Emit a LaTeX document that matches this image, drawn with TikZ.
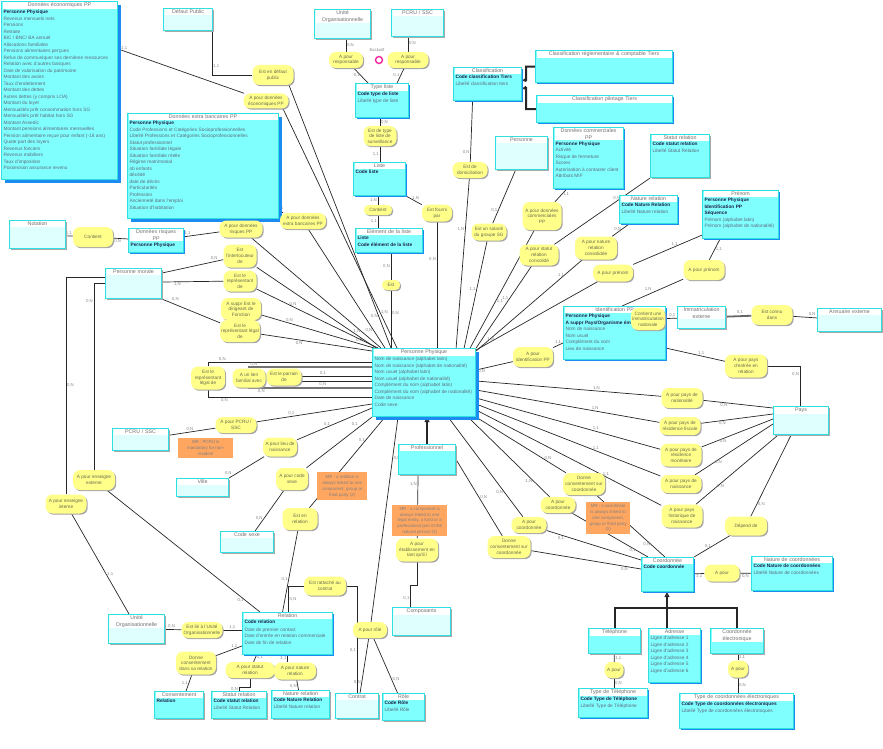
\documentclass[tikz,border=0pt]{standalone}
\usepackage{fontspec}
\setmainfont{Liberation Sans}
\usetikzlibrary{arrows.meta,shadows}
\pgfdeclarelayer{back}
\pgfsetlayers{back,main}

\definecolor{entline}{HTML}{30E0E0}
\definecolor{entfill}{HTML}{80FFFF}
\definecolor{palefill}{HTML}{DFFFFF}
\definecolor{titletext}{HTML}{707070}
\definecolor{boldtext}{HTML}{1E2046}
\definecolor{attrtext}{HTML}{5E6A7A}
\definecolor{relfill}{HTML}{FFFF8A}
\definecolor{reltext}{HTML}{6A6A50}
\definecolor{mrfill}{HTML}{FFA661}
\definecolor{shblue}{HTML}{1C8CF0}
\definecolor{shgray}{HTML}{A8A8A8}
\definecolor{linecol}{HTML}{262626}
\definecolor{cardgray}{HTML}{858585}

\newcommand\entfont{\fontsize{4.8}{6.5}\selectfont}
\newcommand\titlefont{\fontsize{5.3}{6.3}\selectfont}
\newcommand\relfont{\fontsize{4.7}{5.6}\selectfont}
\newcommand\mrfont{\fontsize{4.4}{5.8}\selectfont}
\newcommand\cardfont{\fontsize{4.3}{5}\selectfont}
\newcommand\battr[1]{{\color{boldtext}\bfseries #1}}

% entite : nom, x, y, largeur, hauteur, fond, titre, attributs
\newcommand\Ent[9][shs]{%
 \fill[#1] (#3,#4) rectangle ++(#5,#6);
 \node[ent, fill=#7, minimum width=#5pt, minimum height=#6pt] (#2) at (#3,#4) {};
 \node[enttitle, text width=\dimexpr#5pt-4pt\relax] (#2-t) at ([yshift=-0.8pt]#2.north) {#8};
 \node[entbody] (#2-b) at (#2-t.south west) {#9};
}

\begin{document}
\begin{tikzpicture}[x=1pt,y=-1pt,
ent/.style={draw=entline, line width=1.1pt, anchor=north west, inner sep=0pt},
enttitle/.style={fill=white, anchor=north, inner sep=1pt, align=center, font=\titlefont, text=titletext},
entbody/.style={anchor=north west, inner sep=1pt, align=left, font=\entfont, text=attrtext},
shb/.style={fill=shblue, xshift=4pt, yshift=-4pt},
shs/.style={fill=shblue, xshift=2pt, yshift=-2pt},
shg/.style={fill=shgray, xshift=2pt, yshift=-2pt},
rel/.style 2 args={fill=relfill, rounded corners=7pt, inner xsep=1pt, inner ysep=1pt,
 align=center, font=\relfont, text=reltext, minimum width=#1pt, minimum height=#2pt,
 drop shadow={shadow xshift=1.2pt, shadow yshift=-1.2pt, fill=black!35, opacity=1}},
small/.style={rounded corners=4.5pt},
mr/.style={fill=mrfill, anchor=north west, inner sep=1pt, align=center, font=\mrfont, text=black!50},
link/.style={draw=linecol, line width=0.7pt},
inh/.style={draw=linecol, line width=2pt},
card/.style={font=\cardfont, text=cardgray, inner sep=0.8pt},
]
\useasboundingbox (0,0) rectangle (883,749);

%% entites
\Ent[shb]{eco}{1}{1}{116}{178}{entfill}{Données économiques PP}{\battr{Personne Physique}\\Revenus mensuels nets\\Pensions\\Retraite\\BIC / BNC/ BA annuel\\Allocations familiales\\Pensions alimentaires perçues\\Refus de communiquer ses dernières ressources\\Relation avec d'autres banques\\Date de valorisation du patrimoine\\Montant des avoirs\\Taux d'endettement\\Montant des dettes\\Autres dettes (y compris LOA)\\Montant du loyer\\Mensualités prêt consommation hors SG\\Mensualités prêt habitat hors SG\\Montant Assedic\\Montant pensions alimentaires mensuelles\\Pension alimentaire reçue pour enfant (-18 ans)\\Quote part des loyers\\Revenus fonciers\\Revenus mobiliers\\Taux d'imposition\\Possession assurance revenu}
\Ent[shg]{defaut}{163}{8}{49}{22}{palefill}{Défaut Public}{}
\Ent[shg]{uoT}{314}{9}{56}{29}{palefill}{Unité\\Organisationnelle}{}
\Ent[shg]{pcruT}{391}{9}{52}{27}{palefill}{PCRU / SSC}{}
\Ent{typeliste}{355}{83}{53}{34}{entfill}{Type liste}{\battr{Code type de liste}\\Libellé type de liste}
\Ent{liste}{353}{162}{52}{33}{entfill}{Liste}{\battr{Code liste}}
\Ent{elem}{355}{228}{67}{24}{entfill}{Elément de la liste}{\battr{Liste}\\\battr{Code élément de la liste}}
\Ent{classif}{453}{67}{68}{33}{entfill}{Classification}{\battr{Code classification Tiers}\\Libellé classification tiers}
\Ent{classreg}{535}{50}{137}{32}{entfill}{Classification réglementaire \& comptable Tiers}{}
\Ent{classpil}{536}{95}{136}{27}{entfill}{Classification pilotage Tiers}{}
\Ent[shg]{personne}{495}{136}{52}{33}{palefill}{Personne}{}
\Ent{comm}{553}{127}{70}{61}{entfill}{Données commerciales\\PP}{\battr{Personne Physique}\\Activité\\Risque de fermeture\\Scores\\Autorisation à contacter client\\Attributs MIF}
\Ent[shg]{statutT}{650}{134}{59}{43}{entfill}{Statut relation}{\battr{Code statut relation}\\Libellé Statut Relation}
\Ent{natureT}{619}{195}{58}{28}{entfill}{Nature relation}{\battr{Code Nature Relation}\\Libellé Nature relation}
\Ent{prenom}{702}{190}{76}{48}{entfill}{Prénom}{\battr{Personne Physique}\\\battr{Identification PP}\\\battr{Séquence}\\Prénom (alphabet latin)\\Prénom (alphabet de nationalité)}
\Ent[shb]{extra}{127}{113}{151}{105}{entfill}{Données extra bancaires PP}{\battr{Personne Physique}\\Code Professions et Catégories Socioprofessionnelles\\Libellé Professions et Catégories Socioprofessionnelles\\Statut professionnel\\Situation familiale légale\\Situation familiale réelle\\Régime matrimonial\\nb enfants\\décédé\\date de décès\\Particularités\\Profession\\Ancienneté dans l'emploi\\Situation d'habitation}
\Ent[shg]{notation}{9}{220}{56}{28}{palefill}{Notation}{}
\Ent{risques}{128}{228}{55}{24}{entfill}{Données risques\\PP}{\battr{Personne Physique}}
\Ent[shg]{pm}{105}{268}{56}{30}{palefill}{Personne morale}{}
\Ent[shb]{pp}{372}{348}{103}{68}{entfill}{Personne Physique}{Nom de naissance (alphabet latin)\\Nom de naissance (alphabet de nationalité)\\Nom usuel (alphabet latin)\\Nom usuel (alphabet de nationalité)\\Complément du nom (alphabet latin)\\Complément du nom (alphabet de nationalité)\\Date de naissance\\Code sexe}
\Ent{ident}{563}{306}{102}{53}{entfill}{Identification PP}{\battr{Personne Physique}\\\battr{A suppr Pays/Organisme émetteur}\\Nom de naissance\\Nom usuel\\Complément du nom\\Lieu de naissance}
\Ent[shg]{immat}{677}{306}{48}{22}{palefill}{Immatriculation\\externe}{}
\Ent[shg]{annuaire}{817}{308}{64}{23}{palefill}{Annuaire externe}{}
\Ent[shg]{pays}{773}{406}{55}{28}{palefill}{Pays}{}
\Ent[shg]{pcruL}{112}{428}{56}{22}{palefill}{PCRU / SSC}{}
\Ent[shg]{ville}{176}{478}{52}{18}{palefill}{Ville}{}
\Ent[shg]{codesexe}{220}{531}{53}{21}{palefill}{Code sexe}{}
\Ent[shg]{prof}{398}{444}{57}{30}{entfill}{Professionnel}{}
\Ent[shg]{composants}{392}{607}{58}{28}{palefill}{Composants}{}
\Ent[shg]{uoB}{108}{614}{56}{29}{palefill}{Unité\\Organisationnelle}{}
\Ent{relation}{242}{612}{90}{42}{entfill}{Relation}{\battr{Code relation}\\[1pt]Date de premier contact\\Date d'entrée en relation commerciale\\Date de fin de relation}
\Ent[shg]{consent}{154}{691}{49}{27}{entfill}{Consentement}{\battr{Relation}}
\Ent[shg]{statutB}{211}{691}{55}{27}{entfill}{Statut relation}{\battr{Code statut relation}\\Libellé Statut Relation}
\Ent[shg]{natureB}{271}{690}{58}{28}{entfill}{Nature relation}{\battr{Code Nature Relation}\\Libellé Nature relation}
\Ent[shg]{contrat}{335}{693}{43}{25}{palefill}{Contrat}{}
\Ent[shg]{role}{382}{693}{42}{27}{entfill}{Rôle}{\battr{Code Rôle}\\Libellé Rôle}
\Ent{coord}{641}{557}{52}{34}{entfill}{Coordonnée}{\battr{Code coordonnée}}
\Ent{natcoord}{751}{556}{81}{34}{entfill}{Nature de coordonnées}{\battr{Code Nature de coordonnées}\\Libellé Nature de coordonnées}
\Ent[shg]{tel}{588}{628}{52}{25}{entfill}{Téléphone}{}
\Ent{adresse}{648}{628}{52}{54}{entfill}{Adresse}{Ligne d'adresse 1\\Ligne d'adresse 2\\Ligne d'adresse 3\\Ligne d'adresse 4\\Ligne d'adresse 5\\Ligne d'adresse 6}
\Ent[shg]{coordelec}{710}{628}{53}{25}{entfill}{Coordonnée\\électronique}{}
\Ent{typetel}{578}{688}{69}{29}{entfill}{Type de Téléphone}{\battr{Code Type de Téléphone}\\Libellé Type de Téléphone}
\Ent{typecoordelec}{679}{693}{114}{35}{entfill}{Type de coordonnées électroniques}{\battr{Code Type de coordonnées électroniques}\\Libellé Type de coordonnées électroniques}

%% associations
\node[rel={41}{20}] (r_defaut) at (273,75) {Est en défaut\\public};
\node[rel={45}{15}] (r_eco) at (266,101) {A pour données\\économiques PP};
\node[rel={34}{16}] (r_respU) at (346,60) {A pour\\responsable};
\node[rel={41}{16}] (r_respP) at (408,60) {A pour\\responsable};
\node[circle, draw=magenta!85, line width=1.4pt, fill=white, minimum size=7pt, inner sep=0pt] (excl) at (379,60) {};
\node[card] (exclLbl) at (377,50) {Exclusif};
\node[rel={33}{20}] (r_typesurv) at (380,136) {Est de type\\de liste de\\surveillance};
\node[rel={28}{10}, small] (r_contient) at (378,210) {Contient};
\node[rel={30}{17}] (r_fourni) at (437,213) {Est fourni\\par};
\node[rel={18}{10}, small] (r_est) at (391,285) {Est};
\node[rel={35}{16}] (r_domic) at (470,170) {Est de\\domiciliation};
\node[rel={35}{17}] (r_salarie) at (489,232) {Est un salarié\\du groupe SG};
\node[rel={39}{28}] (r_comm) at (542,216) {A pour données\\commerciales\\PP};
\node[rel={39}{21}] (r_statcons) at (539,255) {A pour statut\\relation\\consolidé};
\node[rel={42}{23}] (r_natcons) at (596,248) {A pour nature\\relation\\consolidée};
\node[rel={40}{17}] (r_prenom1) at (613,273) {A pour prénom};
\node[rel={41}{20}] (r_prenom2) at (704,270) {A pour prénom};
\node[rel={40}{20}] (r_identpp) at (533,357) {A pour\\identification PP};
\node[rel={34}{22}] (r_immat) at (648,319) {Contient une\\immatriculation\\nationale};
\node[rel={41}{20}] (r_connu) at (772,315) {Est connu\\dans};
\node[rel={42}{23}] (r_paysentree) at (746,366) {A pour pays\\d'entrée en\\relation};
\node[rel={41}{20}] (r_natio) at (682,398) {A pour pays de\\nationalité};
\node[rel={41}{18}] (r_fisc) at (680,426) {A pour pays de\\résidence fiscale};
\node[rel={41}{23}] (r_monet) at (681,455) {A pour pays de\\résidence\\monétaire};
\node[rel={41}{18}] (r_naiss) at (681,484) {A pour pays de\\naissance};
\node[rel={41}{23}] (r_histo) at (682,516) {A pour pays\\historique de\\naissance};
\node[rel={42}{19}] (r_depend) at (746,526) {Dépend de};
\node[rel={35}{17}] (r_apour) at (722,573) {A pour};
\node[rel={42}{22}] (r_consent1) at (584,484) {Donne\\consentement sur\\coordonnée};
\node[rel={35}{16}] (r_coord1) at (558,505) {A pour\\coordonnée};
\node[rel={35}{16}] (r_coord2) at (529,525) {A pour\\coordonnée};
\node[rel={43}{22}] (r_consent2) at (509,547) {Donne\\consentement sur\\coordonnée};
\node[rel={32}{22}] (r_codesexe) at (292,479) {A pour code\\sexe};
\node[rel={34}{19}] (r_lieu) at (280,447) {A pour lieu de\\naissance};
\node[rel={41}{16}] (r_pcru) at (236,425) {A pour PCRU /\\SSC};
\node[rel={34}{23}] (r_replegal2) at (208,378) {Est le\\représentant\\légal de};
\node[rel={33}{19}] (r_lien) at (249,378) {A un lien\\familial avec};
\node[rel={35}{17}] (r_parrain) at (284,377) {Est le parrain\\de};
\node[rel={33}{23}] (r_interloc) at (240,256) {Est\\l'interlocuteur\\de};
\node[rel={33}{21}] (r_repr) at (240,281) {Est le\\représentant\\de};
\node[rel={40}{22}] (r_dirig) at (241,309) {A suppr Est le\\dirigeant de\\Fonction};
\node[rel={39}{22}] (r_replegal) at (240,331) {Est le\\représentant légal\\de};
\node[rel={40}{20}] (r_contientN) at (93,237) {Contient};
\node[rel={43}{17}] (r_risques) at (241,229) {A pour données\\risques PP};
\node[rel={46}{16}] (r_extra) at (303,221) {A pour données\\extra bancaires PP};
\node[rel={42}{20}] (r_ensext) at (94,480) {A pour enseigne\\externe};
\node[rel={41}{19}] (r_ensint) at (66,504) {A pour enseigne\\interne};
\node[rel={41}{16}] (r_uorg) at (202,630) {Est lié à l'Unité\\Organisationnelle};
\node[rel={40}{23}] (r_consrel) at (196,663) {Donne\\consentement\\dans sa relation};
\node[rel={49}{16}] (r_statrel) at (250,670) {A pour statut\\relation};
\node[rel={42}{17}] (r_natrel) at (295,671) {A pour nature\\relation};
\node[rel={35}{22}] (r_enrel) at (300,519) {Est en\\relation};
\node[rel={42}{19}] (r_contrat) at (325,586) {Est rattaché au\\contrat};
\node[rel={34}{16}] (r_role) at (370,630) {A pour rôle};
\node[rel={42}{23}] (r_etab) at (417,550) {A pour\\établissement en\\tant qu'EI};
\node[rel={19}{16}] (r_tel) at (614,670) {A pour};
\node[rel={20}{17}] (r_elec) at (738,669) {A pour};

%% regles de gestion
\node[mr, minimum width=55pt, minimum height=20pt] (mr1) at (178,438) {MR : PCRU is\\mandatory for non-\\resident};
\node[mr, minimum width=50pt, minimum height=28pt] (mr2) at (317,472) {MR : a relation is\\always linked to one\\component, group or\\third party (2)};
\node[mr, minimum width=55pt, minimum height=31pt] (mr3) at (392,505) {MR : a component is\\always linked to one\\legal entity, a fund or a\\professional part of the\\natural person (3)};
\node[mr, minimum width=44pt, minimum height=32pt] (mr4) at (586,502) {MR : a coordinate\\is always linked to\\one component,\\group or third party\\(1)};

\coordinate (hub) at (667,608);

\begin{pgfonlayer}{back}
% haut
\draw[link] ([xshift=-1pt]defaut.south east) |- node[card, pos=0.4, right]{1,1} (r_defaut);
\draw[link] ([xshift=16pt]r_defaut.south) -- node[card, pos=0.88, left]{0,N} ([xshift=19pt]pp.north west);
\draw[link] ([yshift=-48pt]eco.north east) -- node[card, pos=0.05, above]{1,1} (r_eco);
\draw[link] ([xshift=17pt]r_eco.south) -- node[card, pos=0.85, right]{1,N} ([xshift=25pt]pp.north west);
\draw[link] (uoT.south -| r_respU) -- node[card, pos=0.45, right]{0,N} (r_respU);
\draw[link] (pcruT.south -| r_respP) -- node[card, pos=0.45, right]{0,N} (r_respP);
\draw[link] (r_respU) -- node[card, pos=0.5, left]{0,1} ([xshift=13pt]typeliste.north west);
\draw[link] (r_respP) -- node[card, pos=0.5, left]{0,1} ([xshift=-12pt]typeliste.north east);
\draw[link] (typeliste.south -| r_typesurv) -- node[card, pos=0.5, right]{0,N} (r_typesurv);
\draw[link] (r_typesurv) -- node[card, pos=0.5, left]{1,1} (liste.north -| r_typesurv);
\draw[link] (liste.south -| r_contient) -- node[card, pos=0.5, left]{1,N} (r_contient);
\draw[link] (r_contient) -- node[card, pos=0.5, left]{1,1} (elem.north -| r_contient);
\draw[link] (liste.south east) -- node[card, pos=0.6, above]{1,N} (r_fourni);
\draw[link] (r_fourni) -- node[card, pos=0.3, left]{0,N} (r_fourni |- pp.north);
\draw[link] (elem.south -| r_est) -- node[card, pos=0.5, left]{0,N} (r_est);
\draw[link] (r_est) -- node[card, pos=0.4, right]{0,N} (r_est |- pp.north);
% classification
\draw[link] ([xshift=-15pt]classif.south) -- node[card, pos=0.85, left]{0,N} (r_domic);
\draw[link] (r_domic) -- node[card, pos=0.3, left]{1,N} ([xshift=-20pt]pp.north east);
\draw[inh, -{Triangle[open, length=4pt, width=4pt]}] (classreg.west) -| (526,80) -- ([yshift=3.5pt]classif.east);
\draw[inh, -{Triangle[open, length=4pt, width=4pt]}] (classpil.west) -| (526,88) -- ([yshift=-4.5pt]classif.east);
\draw[link] ([xshift=-6pt]personne.south) -- node[card, pos=0.75, left]{0,1} (r_salarie);
\draw[link] (r_salarie) -- node[card, pos=0.45, left]{1,1} ([xshift=-12pt]pp.north east);
\draw[link] ([xshift=-22pt]comm.south) -- node[card, pos=0.4, right]{1,1} (r_comm);
\draw[link] (r_comm) -- node[card, pos=0.6, right]{1,1} ([xshift=-6pt]pp.north east);
\draw[link] (statutT.south west) -- node[card, pos=0.3, left]{0,N} (r_statcons);
\draw[link] (r_statcons) -- node[card, pos=0.4, left]{1,1} (pp.north east);
\draw[link] ([xshift=10pt]natureT.south west) -- node[card, pos=0.4, left]{0,N} (r_natcons);
\draw[link] (r_natcons) -- node[card, pos=0.2, above]{1,1} ([yshift=-3pt]pp.north east);
% prenom, identification
\draw[link] ([yshift=-2pt]pp.north east) -- node[card, pos=0.12, above]{1,N} (r_prenom1);
\draw[link] (r_prenom1) -- node[card, pos=0.6, above]{1,1} ([yshift=4pt]prenom.south west);
\draw[link] ([xshift=59pt]ident.north west) -- node[card, pos=0.5, above left]{1,N} (r_prenom2);
\draw[link] (r_prenom2) -- node[card, pos=0.5, right]{1,1} ([xshift=18pt]prenom.south west);
\draw[link] ([yshift=-22pt]pp.north east) -- node[card, pos=0.15, below]{0,N} (r_identpp);
\draw[link] (r_identpp) -- node[card, pos=0.5, above]{1,1} ([yshift=-37pt]ident.north west);
\draw[link] (r_immat) -- node[card, pos=0.6, above]{0,1} (immat);
\draw[link, line width=1.8pt, draw=black!60] (immat) -- node[card, pos=0.55, above]{0,1} (r_connu);
\draw[link] (r_connu) -- node[card, pos=0.8, above]{0,N} (annuaire);
\draw[link] ([yshift=12pt]ident.south east) -- node[card, pos=0.6, above]{1,1} (r_paysentree);
\draw[link] (r_paysentree) -| node[card, pos=0.6, left]{0,N} ([xshift=27pt]pays.north west);
% pays
\draw[link] ([yshift=-33pt]pp.north east) -- node[card, pos=0.65, above]{1,N} (r_natio);
\draw[link] (r_natio) -- node[card, pos=0.3, below]{0,N} ([yshift=-2pt]pays.north west);
\draw[link] ([yshift=-42pt]pp.north east) -- node[card, pos=0.65, above]{1,N} (r_fisc);
\draw[link] (r_fisc) -- node[card, pos=0.3, below]{0,N} ([yshift=-8pt]pays.north west);
\draw[link] ([yshift=-50pt]pp.north east) -- node[card, pos=0.65, above]{1,1} (r_monet);
\draw[link] (r_monet) -- node[card, pos=0.3, below]{0,N} ([yshift=-13pt]pays.north west);
\draw[link] ([yshift=-56pt]pp.north east) -- node[card, pos=0.65, above]{1,1} (r_naiss);
\draw[link] (r_naiss) -- node[card, pos=0.3, below]{0,N} ([yshift=-18pt]pays.north west);
\draw[link] ([yshift=-62pt]pp.north east) -- node[card, pos=0.7, above]{1,1} (r_histo);
\draw[link] (r_histo) -- node[card, pos=0.3, below]{0,N} ([xshift=5pt]pays.south west);
\draw[link] ([xshift=-10pt]pays.south) -- node[card, pos=0.85, right]{0,N} (r_depend);
\draw[link] (r_depend) -- node[card, pos=0.5, left]{0,1} (coord.north east);
\draw[link] (coord) -- node[card, pos=0.5, below]{1,1} (r_apour);
\draw[link] (r_apour) -- node[card, pos=0.5, below]{0,N} (natcoord);
% coordonnees
\draw[link] (pp.south east) -- node[card, pos=0.8, above]{0,N} (r_consent1);
\draw[link] (r_consent1) -- node[card, pos=0.8, left]{0,N} ([xshift=24pt]coord.north west);
\draw[link] ([xshift=-8pt]pp.south east) -- node[card, pos=0.8, left]{1,N} (r_coord1);
\draw[link] (r_coord1) -- node[card, pos=0.85, left]{0,1} ([xshift=7pt]coord.north west);
\draw[link] ([xshift=-28pt]pp.south east) -- node[card, pos=0.75, left]{0,N} (r_coord2);
\draw[link] (r_coord2) -- node[card, pos=0.15, below]{0,1} ([yshift=-3pt]coord.north west);
\draw[link] (prof.east) -- node[card, pos=0.5, right]{0,N} (r_consent2);
\draw[link] (r_consent2) -- node[card, pos=0.85, below]{0,N} ([yshift=-12pt]coord.north west);
\draw[inh] (tel.north) |- (hub) -| (coordelec.north);
\draw[inh] (adresse.north -| hub) -- (hub);
\draw[inh, -{Triangle[open, length=5pt, width=5pt]}] (hub) -- (coord.south -| hub);
\draw[link] (tel) -- node[card, pos=0.5, right]{1,1} (r_tel);
\draw[link] (r_tel) -- node[card, pos=0.5, right]{0,N} (typetel.north -| r_tel);
\draw[link] (coordelec.south -| r_elec) -- node[card, pos=0.5, right]{1,1} (r_elec);
\draw[link] (r_elec) -- node[card, pos=0.5, right]{0,N} (typecoordelec.north -| r_elec);
% professionnel
\draw[inh, -{Triangle[open, length=5pt, width=5pt]}] (prof.north) -- (prof.north |- pp.south);
\draw[link] ([xshift=-9pt]prof.south) -- node[card, pos=0.15, left]{1,N} (r_etab);
\draw[link] (r_etab.south) -- ++(0,24) -| node[card, pos=0.8, left]{0,1} ([xshift=-11pt]composants.north);
% personne physique, cote gauche
\draw[link] ([yshift=-14pt]pp.north west) -| node[card, pos=0.47, above right]{0,N} (r_replegal2.north);
\draw[link] (r_replegal2.south) |- node[card, pos=0.55, below]{0,N} ([yshift=-49pt]pp.north west);
\draw[link, draw=black!55, line width=1.2pt] ([yshift=-19pt]pp.north west) -| node[card, pos=0.48, above]{0,N} (r_lien.north);
\draw[link, draw=black!55, line width=1.2pt] (r_lien.south) |- node[card, pos=0.55, below]{0,N} ([yshift=-40pt]pp.north west);
\draw[link] ([yshift=1pt]r_parrain.east) -- node[card, pos=0.3, above]{0,1} ([yshift=-28pt]pp.north west);
\draw[link] ([yshift=-4pt]r_parrain.east) -- node[card, pos=0.3, below]{0,N} ([yshift=-33pt]pp.north west);
\draw[link] (pcruL) -- node[card, pos=0.45, above]{0,N} (r_pcru);
\draw[link] (r_pcru) -- node[card, pos=0.3, above]{0,1} ([yshift=-56pt]pp.north west);
\draw[link] (ville.north east) -- node[card, pos=0.1, above left]{0,N} (r_lieu);
\draw[link] (r_lieu) -- node[card, pos=0.4, above]{0,1} ([yshift=-60pt]pp.north west);
\draw[link] ([xshift=8pt]codesexe.north) -- node[card, pos=0.3, left]{0,N} (r_codesexe);
\draw[link] (r_codesexe) -- node[card, pos=0.8, above left]{0,1} (pp.south west);
\draw[link] ([xshift=13pt]pp.south west) -- node[card, pos=0.25, left]{0,1} (r_enrel);
\draw[link] (r_enrel) -- node[card, pos=0.6, left]{0,1} ([xshift=-5pt]relation.north);
\draw[link] ([xshift=26pt]pp.south west) -- node[card, pos=0.2, right]{0,N} (r_role);
\draw[link] (r_role) -- node[card, pos=0.8, left]{0,N} ([xshift=3pt]contrat.north);
\draw[link] (r_role) -- node[card, pos=0.75, right]{0,N} ([xshift=-6pt]role.north);
\draw[link] ([xshift=1pt]relation.north) |- node[card, pos=0.25, right]{0,N} (r_contrat);
\draw[link] (r_contrat) -| node[card, pos=0.8, left]{0,1} (contrat.north);
% personne morale
\draw[link] ([yshift=-5pt]pm.north east) -- node[card, pos=0.85, above]{0,N} (r_interloc);
\draw[link] ([yshift=-14pt]pm.north east) -- node[card, pos=0.25, below]{1,N} (r_repr);
\draw[link] (pm.south east) -- node[card, pos=0.15, above right]{0,N} (r_replegal);
\draw[link] (r_interloc) -- node[card, pos=0.9, left]{0,N} ([xshift=4pt]pp.north west);
\draw[link] (r_repr) -- node[card, pos=0.3, above]{0,N} ([xshift=6pt]pp.north west);
\draw[link] (r_dirig) -- node[card, pos=0.25, above]{0,N} ([xshift=2pt]pp.north west);
\draw[link] (r_replegal) -- node[card, pos=0.35, below]{0,N} ([yshift=-3pt]pp.north west);
\draw[link] ([yshift=-9pt]pm.north west) -| node[card, pos=0.75, right]{0,N} (r_ensint.north);
\draw[link] ([yshift=-15pt]pm.north west) -| node[card, pos=0.55, left]{0,N} (r_ensext.north);
\draw[link] (r_ensext) -- node[card, pos=0.9, left]{0,1} ([xshift=18pt]relation.north west);
\draw[link] (r_ensint) -- node[card, pos=0.6, right]{1,1} ([xshift=21pt]uoB.north west);
\draw[link] (uoB) -- node[card, pos=0.4, above]{0,N} (r_uorg);
\draw[link] (r_uorg) -- node[card, pos=0.5, above]{1,1} ([yshift=-18pt]relation.north west);
\draw[link] ([yshift=-34pt]relation.north west) -- node[card, pos=0.3, above]{1,1} (r_consrel);
\draw[link] (r_consrel) -- node[card, pos=0.5, left]{1,1} ([xshift=7pt]consent.north);
\draw[link] ([xshift=-31pt]relation.south) -- node[card, pos=0.3, right]{1,1} (r_statrel);
\draw[link] (r_statrel.south) -- ++(0,9) -| node[card, pos=0.8, left]{0,N} (statutB.north);
\draw[link] (relation.south) -- node[card, pos=0.5, left]{1,1} (relation.south |- r_natrel.north);
\draw[link] (r_natrel) -- node[card, pos=0.6, left]{0,N} ([xshift=-2pt]natureB.north);
% notation, risques, extra bancaires
\draw[link] (notation) -- node[card, pos=0.4, above]{1,1} (r_contientN);
\draw[link] (r_contientN) -- node[card, pos=0.3, below]{0,N} (risques);
\draw[link] (risques) -- node[card, pos=0.1, above]{1,1} (r_risques);
\draw[link] (r_risques) -- node[card, pos=0.85, left]{1,N} ([xshift=9pt]pp.north west);
\draw[link] ([yshift=8pt]extra.south east) -- node[card, pos=0.3, above]{1,1} (r_extra);
\draw[link] (r_extra) -- node[card, pos=0.85, left]{0,N} ([xshift=13pt]pp.north west);
\end{pgfonlayer}

\end{tikzpicture}
\end{document}
